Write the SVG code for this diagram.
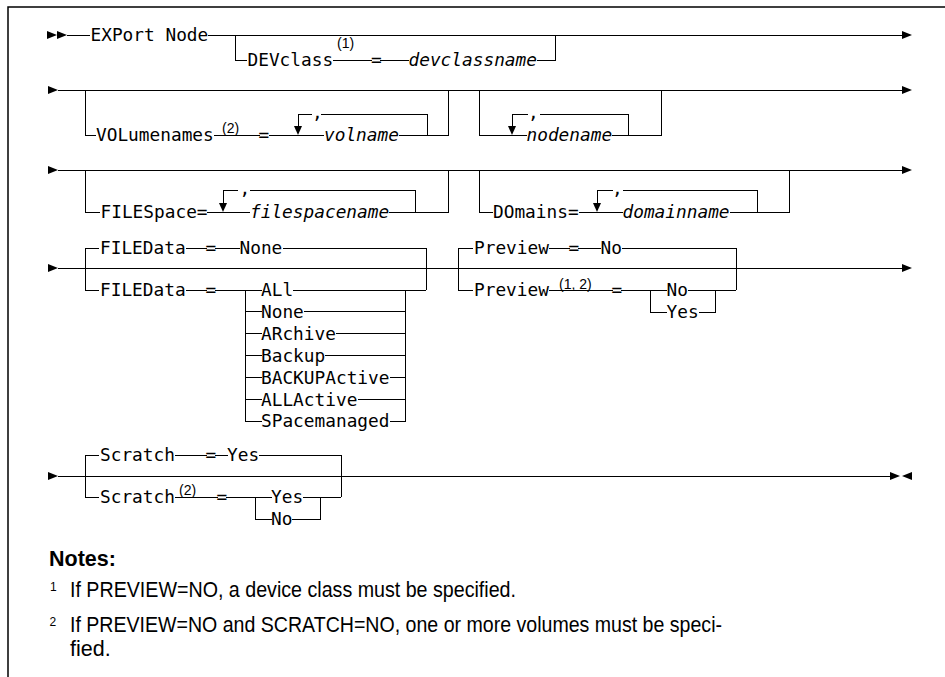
<svg xmlns="http://www.w3.org/2000/svg" width="945" height="677" viewBox="0 0 945 677">
<style>
.t{font-family:"DejaVu Sans Mono","Liberation Mono",monospace;font-size:17.8px;fill:#000}
.v{font-style:italic}
.s{font-family:"Liberation Sans",Arial,sans-serif;font-size:14px;fill:#000}
.n{font-family:"Liberation Sans",Arial,sans-serif;font-size:21.5px;fill:#000}
.b{font-weight:bold}
.f{font-family:"Liberation Sans",Arial,sans-serif;font-size:12px;fill:#000}
.ln{fill:none;stroke:#000;stroke-width:1}
.fr{fill:none;stroke:#000;stroke-width:1.5}
.ah{fill:#000}
</style>
<defs>
<path id="ar" class="ah" d="M0,-4L10,0L0,4Z"/>
<path id="al" class="ah" d="M10,-4L0,0L10,4Z"/>
<path id="ad" class="ah" d="M-4,-9L4,-9L0,0Z"/>
</defs>
<rect width="945" height="677" fill="#fff"/>
<path class="fr" d="M945,7H8V677"/>

<g id="connectors" shape-rendering="crispEdges">
<path class="ln" d="M67,35H90M208,35H902M235,35V60H247M333,60H372M380,60H409M537,60H555V35"/>
<path class="ln" d="M58,90H902M85,90V135H96M214,135H260M269,135H324M399,135H448V90M427,135V114H321M312,114H298V126"/>
<path class="ln" d="M479,90V135H527M612,135H661V90M628,135V114H540M528,114H512V126"/>
<path class="ln" d="M58,170H902M85,170V212H100M207,212H250M415,212V190H250M238,190H223V203M389,212H448V170"/>
<path class="ln" d="M479,170V212H493M579,212H623M757,212V190H623M613,190H597V203M730,212H789V170"/>
<path class="ln" d="M58,268H902"/>
<path class="ln" d="M99,248H85V290H99M186,248H207M215,248H240M283,248H426V290M186,290H207M215,290H262M245,290V421M245,311.8H262M245,333.7H262M245,355.5H262M245,377.3H262M245,399.2H262M245,421H262"/>
<path class="ln" d="M293,290H426M304,311.8H405M336,333.7H405M325,355.5H405M390,377.3H405M358,399.2H405M390,421H405V290"/>
<path class="ln" d="M473,248H458V290H473M549,248H570M578,248H601M622,248H736V290M549,290H613M621,290H667M650,290V312H667M688,290H736M699,312H715V290"/>
<path class="ln" d="M58,476H890M99,455H85V497H99M175,455H207M215,455H228M259,455H341V497M175,497H218M226,497H272M255,497V519H272M303,497H341M292,519H320V497"/>
</g>

<g id="arrows">
<use href="#ar" x="47" y="35"/><use href="#ar" x="57" y="35"/><use href="#ar" x="902" y="35"/>
<use href="#ar" x="48" y="90"/><use href="#ar" x="902" y="90"/>
<use href="#ad" x="298" y="135"/><use href="#ad" x="512" y="135"/>
<use href="#ar" x="48" y="170"/><use href="#ar" x="902" y="170"/>
<use href="#ad" x="223" y="212"/><use href="#ad" x="597" y="212"/>
<use href="#ar" x="48" y="268"/><use href="#ar" x="902" y="268"/>
<use href="#ar" x="48" y="476"/><use href="#ar" x="890" y="476"/><use href="#al" x="902" y="476"/>
</g>

<g id="n-export"><text class="t" x="90.5" y="41.3">EXPort Node</text></g>
<g id="n-devclass"><text class="t" x="247.5" y="66.3">DEVclass</text><text class="s" x="337" y="48">(1)</text><text class="t" x="371" y="66.3">=</text><text class="t v" x="408.5" y="66.3">devclassname</text></g>

<g id="n-volumenames"><text class="t" x="96" y="141.3">VOLumenames</text><text class="s" x="222" y="133">(2)</text><text class="t" x="258.5" y="141.3">=</text><text class="t" x="312" y="119">,</text><text class="t v" x="324" y="141.3">volname</text></g>
<g id="n-nodename"><text class="t" x="528" y="119">,</text><text class="t v" x="526.5" y="141.3">nodename</text></g>

<g id="n-filespace"><text class="t" x="100.5" y="218.3">FILESpace=</text><text class="t" x="239.5" y="195">,</text><text class="t v" x="250" y="218.3">filespacename</text></g>
<g id="n-domains"><text class="t" x="493" y="218.3">DOmains=</text><text class="t" x="612" y="195">,</text><text class="t v" x="622.5" y="218.3">domainname</text></g>

<g id="n-filedata-default"><text class="t" x="100" y="254.3">FILEData</text><text class="t" x="205.5" y="254.3">=</text><text class="t" x="239.5" y="254.3">None</text></g>
<g id="n-filedata"><text class="t" x="100" y="296.3">FILEData</text><text class="t" x="205.5" y="296.3">=</text>
<text class="t" x="261" y="296.3">ALl</text>
<text class="t" x="261" y="318.1">None</text>
<text class="t" x="261" y="340">ARchive</text>
<text class="t" x="261" y="361.8">Backup</text>
<text class="t" x="261" y="383.6">BACKUPActive</text>
<text class="t" x="261" y="405.5">ALLActive</text>
<text class="t" x="261" y="427.3">SPacemanaged</text></g>

<g id="n-preview-default"><text class="t" x="474" y="254.3">Preview</text><text class="t" x="568.5" y="254.3">=</text><text class="t" x="600.5" y="254.3">No</text></g>
<g id="n-preview"><text class="t" x="474" y="296.3">Preview</text><text class="s" x="559" y="289">(1, 2)</text><text class="t" x="611.5" y="296.3">=</text><text class="t" x="666.5" y="296.3">No</text><text class="t" x="666.5" y="318.3">Yes</text></g>

<g id="n-scratch-default"><text class="t" x="100" y="461.3">Scratch</text><text class="t" x="205.5" y="461.3">=</text><text class="t" x="227" y="461.3">Yes</text></g>
<g id="n-scratch"><text class="t" x="100" y="503.3">Scratch</text><text class="s" x="179" y="495">(2)</text><text class="t" x="216.5" y="503.3">=</text><text class="t" x="271" y="503.3">Yes</text><text class="t" x="271" y="525.3">No</text></g>

<g id="notes">
<text class="n b" x="49" y="566">Notes:</text>
<text class="f" x="50" y="591">1</text>
<text class="n" x="70" y="597" textLength="446" lengthAdjust="spacingAndGlyphs">If PREVIEW=NO, a device class must be specified.</text>
<text class="f" x="49.5" y="626">2</text>
<text class="n" x="70" y="632" textLength="652" lengthAdjust="spacingAndGlyphs">If PREVIEW=NO and SCRATCH=NO, one or more volumes must be speci-</text>
<text class="n" x="70" y="656">fied.</text>
</g>
</svg>
